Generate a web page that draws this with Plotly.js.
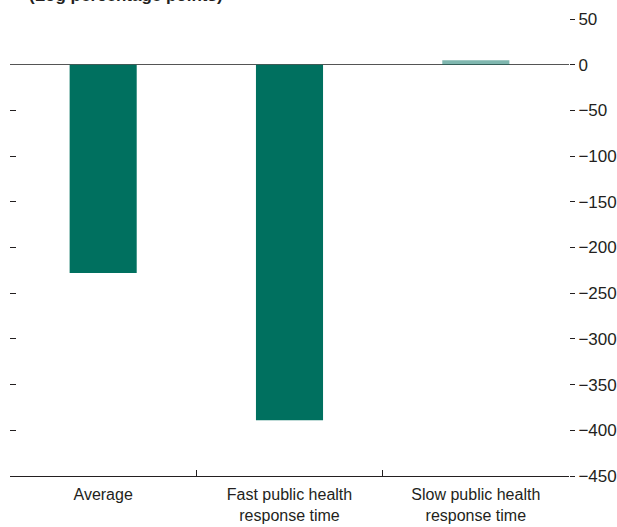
<!DOCTYPE html>
<html>
<head>
<meta charset="utf-8">
<script src="https://cdn.plot.ly/plotly-3.0.1.min.js"></script>
<style>html,body{margin:0;padding:0;background:#fff;}#chart{width:617px;height:527px;}</style>
</head>
<body>
<div id="chart"></div>
<script>
const categories = ["Average", "Fast public health<br>response time", "Slow public health<br>response time"];
const positions = [0, 1, 2];
const values = [-228, -389, 5];
const barColors = ["#00705F", "#00705F", "rgba(0,112,95,0.5)"];
const yTicks = [50, 0, -50, -100, -150, -200, -250, -300, -350, -400, -450];
const yTickText = ["50", "0", "\u221250", "\u2212100", "\u2212150", "\u2212200", "\u2212250", "\u2212300", "\u2212350", "\u2212400", "\u2212450"];
const leftTicks = [50, -50, -100, -150, -200, -250, -300, -350, -400];
const boundaries = [-0.5, 0.5, 1.5, 2.5];

const FONT = "'Liberation Sans', Arial, sans-serif";

const data = [
  {type: "bar", x: positions, y: values, marker: {color: barColors}, xaxis: "x", yaxis: "y", hoverinfo: "none"},
  {type: "scatter", x: [positions[0]], y: [0], mode: "none", xaxis: "x2", yaxis: "y2", showlegend: false, hoverinfo: "none"}
];

const layout = {
  width: 617, height: 527,
  margin: {l: 10, r: 48, t: 19, b: 51},
  paper_bgcolor: "#fff", plot_bgcolor: "#fff",
  showlegend: false,
  bargap: 0.64,
  font: {family: FONT, size: 16, color: "#231f20"},
  xaxis: {
    range: [-0.5, 2.5], tickvals: boundaries, showticklabels: false,
    ticks: "inside", ticklen: 6, tickcolor: "#231f20", tickwidth: 1,
    showline: true, linecolor: "#231f20", linewidth: 1.3, showgrid: false, zeroline: false, fixedrange: true
  },
  xaxis2: {
    overlaying: "x", matches: "x", side: "bottom", range: [-0.5, 2.5],
    tickvals: positions, ticktext: categories, ticks: "", ticklabelstandoff: 7,
    showline: false, showgrid: false, zeroline: false,
    tickfont: {family: FONT, size: 16, color: "#231f20"}
  },
  yaxis: {
    side: "right", range: [-450, 50], tickvals: yTicks, ticktext: yTickText,
    ticks: "outside", ticklen: 5, tickcolor: "#231f20", tickwidth: 1,
    showline: false, showgrid: false,
    zeroline: true, zerolinecolor: "#555", zerolinewidth: 1.5,
    tickfont: {family: FONT, size: 17, color: "#231f20"}, fixedrange: true
  },
  yaxis2: {
    overlaying: "y", side: "left", range: [-450, 50], tickvals: leftTicks,
    showticklabels: false, ticks: "inside", ticklen: 6, tickcolor: "#231f20", tickwidth: 1,
    showline: false, showgrid: false, zeroline: false
  },
  annotations: [{
    text: "<b>(Log percentage points)</b>", xref: "paper", yref: "paper",
    x: 0.03, y: 1, xanchor: "left", yanchor: "bottom", yshift: 12, showarrow: false,
    font: {family: FONT, size: 17, color: "#231f20"}
  }]
};

Plotly.newPlot("chart", data, layout, {displayModeBar: false, staticPlot: true});
</script>
</body>
</html>
